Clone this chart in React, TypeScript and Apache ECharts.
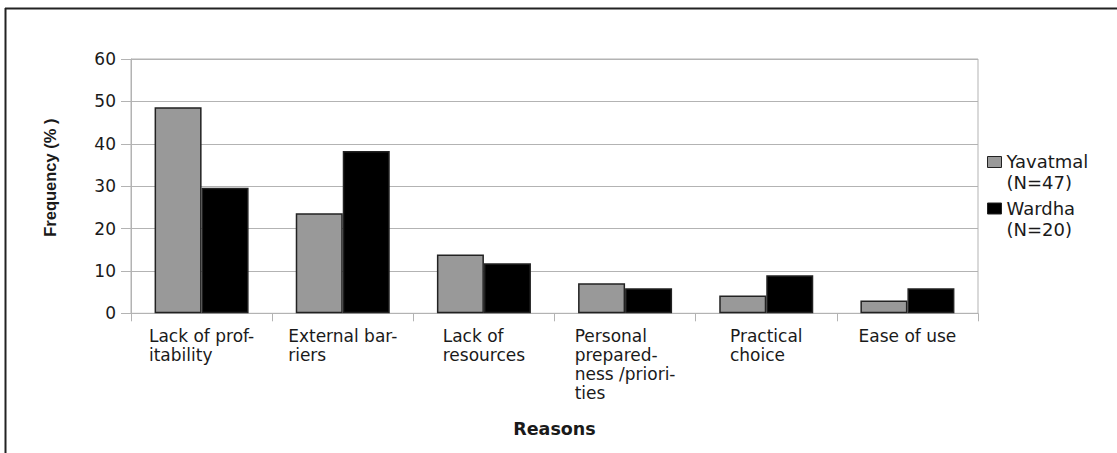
import React, { useEffect, useRef } from "react";
import * as echarts from "echarts";

const categories = [
  "Lack of prof-\nitability",
  "External bar-\nriers",
  "Lack of\nresources",
  "Personal\nprepared-\nness /priori-\nties",
  "Practical\nchoice",
  "Ease of use",
];
const yavatmal = [48.6, 23.6, 13.9, 7.1, 4.2, 3.0];
const wardha = [29.6, 38.3, 11.8, 5.9, 9.0, 5.9];
const seriesNames = ["Yavatmal (N=47)", "Wardha (N=20)"];
const yTicks = { min: 0, max: 60, interval: 10 };

const SANS = "DejaVu Sans";
// legend icon: a square in the upper part of a taller (invisible) box,
// so it lines up with the first line of the two-line legend text
const LEGEND_ICON = "path://M0,0h14v11h-14z M0,31h0.01";

export default function App() {
  const ref = useRef<HTMLDivElement>(null);
  useEffect(() => {
    if (!ref.current) return;
    const chart = echarts.init(ref.current, null, { renderer: "svg" });
    chart.setOption({
      animation: false,
      backgroundColor: "#ffffff",
      grid: {
        left: 131,
        right: 139,
        top: 59,
        bottom: 139.7,
        show: true,
        borderColor: "#b3b3b3",
        borderWidth: 1,
      },
      legend: {
        orient: "vertical",
        left: 987,
        top: 151,
        padding: 0,
        itemWidth: 14,
        itemHeight: 31,
        itemGap: 4.5,
        icon: LEGEND_ICON,
        formatter: (n: string) => n.replace(" (", "\n("),
        textStyle: {
          fontFamily: SANS,
          fontSize: 18,
          lineHeight: 21,
          color: "#1a1a1a",
        },
        itemStyle: { borderColor: "#222222", borderWidth: 1 },
      },
      xAxis: {
        type: "category",
        data: categories,
        name: "Reasons",
        nameLocation: "middle",
        nameGap: 107,
        nameTextStyle: {
          fontFamily: SANS,
          fontWeight: "bold",
          fontSize: 17.5,
          color: "#1a1a1a",
        },
        axisLine: { lineStyle: { color: "#b3b3b3" } },
        axisTick: { show: true, length: 8, lineStyle: { color: "#b3b3b3" } },
        axisLabel: {
          interval: 0,
          margin: 13,
          color: "#1a1a1a",
          fontFamily: SANS,
          fontSize: 17,
          lineHeight: 19,
          formatter: (v: string) =>
            v
              .split("\n")
              .map((s) => `{l|${s}}`)
              .join("\n"),
          rich: {
            l: {
              align: "left",
              fontFamily: SANS,
              fontSize: 17,
              lineHeight: 19,
              color: "#1a1a1a",
            },
          },
        },
      },
      yAxis: {
        type: "value",
        min: yTicks.min,
        max: yTicks.max,
        interval: yTicks.interval,
        name: "Frequency (% )",
        nameLocation: "middle",
        nameGap: 73,
        nameTextStyle: {
          fontFamily: "Liberation Sans",
          fontWeight: "bold",
          fontSize: 16.5,
          color: "#1a1a1a",
          padding: [0, 0, 0, 17],
        },
        axisLine: { show: true, lineStyle: { color: "#b3b3b3" } },
        axisTick: { show: true, length: 10, lineStyle: { color: "#b3b3b3" } },
        splitLine: { show: true, lineStyle: { color: "#b3b3b3", width: 1 } },
        axisLabel: {
          margin: 15,
          color: "#1a1a1a",
          fontFamily: SANS,
          fontSize: 17,
        },
      },
      series: [
        {
          name: seriesNames[0],
          type: "bar",
          data: yavatmal,
          barGap: "0%",
          barCategoryGap: "33.4%",
          itemStyle: { color: "#999999", borderColor: "#222222", borderWidth: 1.5 },
        },
        {
          name: seriesNames[1],
          type: "bar",
          data: wardha,
          barGap: "0%",
          barCategoryGap: "33.4%",
          itemStyle: { color: "#000000", borderColor: "#222222", borderWidth: 1.5 },
        },
      ],
      graphic: [
        {
          type: "line",
          shape: { x1: 5, y1: 8.5, x2: 1117, y2: 8.5 },
          style: { stroke: "#222222", lineWidth: 2 },
          silent: true,
        },
        {
          type: "line",
          shape: { x1: 5.5, y1: 8, x2: 5.5, y2: 453 },
          style: { stroke: "#222222", lineWidth: 2 },
          silent: true,
        },
      ],
    });
    return () => chart.dispose();
  }, []);
  return (
    <div
      ref={ref}
      style={{ position: "fixed", left: 0, top: 0, width: 1117, height: 453, background: "#fff" }}
    />
  );
}
